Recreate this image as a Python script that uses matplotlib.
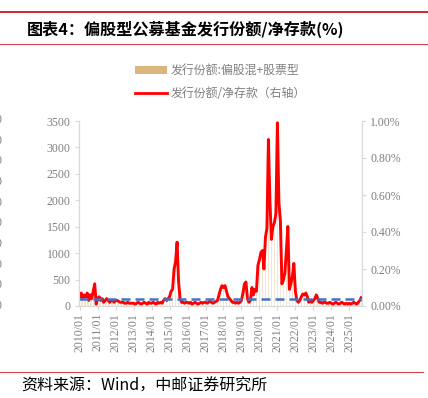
"""偏股型公募基金发行份额/净存款 chart."""

import matplotlib

matplotlib.use("Agg")

import matplotlib.pyplot as plt
import numpy as np
from matplotlib.lines import Line2D
from matplotlib.patches import Patch

# monthly data, 2010/01 - 2025/09
start_year = 2010
n_months = 189

# 发行份额/净存款 (%), right axis
ratio = [
    0.05, 0.07, 0.04, 0.06, 0.05, 0.07, 0.03, 0.06, 0.04, 0.08, 0.12, 0.01,  # 2010
    0.04, 0.05, 0.03, 0.04, 0.02, 0.03, 0.04, 0.03, 0.02, 0.03, 0.03, 0.02,  # 2011
    0.03, 0.03, 0.025, 0.02, 0.02, 0.02, 0.015, 0.015, 0.02, 0.015, 0.015, 0.015,  # 2012
    0.015, 0.01, 0.015, 0.02, 0.015, 0.01, 0.015, 0.02, 0.015, 0.01, 0.02, 0.015,  # 2013
    0.015, 0.02, 0.015, 0.01, 0.02, 0.015, 0.02, 0.015, 0.03, 0.04, 0.03, 0.04,  # 2014
    0.05, 0.08, 0.09, 0.20, 0.24, 0.345, 0.13, 0.04, 0.02, 0.02, 0.015, 0.02,  # 2015
    0.02, 0.015, 0.02, 0.01, 0.015, 0.02, 0.015, 0.01, 0.015, 0.02, 0.015, 0.02,  # 2016
    0.02, 0.015, 0.02, 0.025, 0.02, 0.015, 0.02, 0.025, 0.03, 0.06, 0.09, 0.11,  # 2017
    0.10, 0.11, 0.08, 0.05, 0.04, 0.03, 0.02, 0.02, 0.015, 0.02, 0.015, 0.02,  # 2018
    0.03, 0.07, 0.12, 0.13, 0.04, 0.02, 0.03, 0.10, 0.06, 0.09, 0.08, 0.22,  # 2019
    0.25, 0.29, 0.30, 0.20, 0.37, 0.42, 0.90, 0.57, 0.36, 0.43, 0.45, 0.50,  # 2020
    0.99, 0.56, 0.46, 0.12, 0.14, 0.18, 0.30, 0.43, 0.09, 0.12, 0.16, 0.23,  # 2021
    0.08, 0.03, 0.02, 0.03, 0.05, 0.065, 0.06, 0.07, 0.05, 0.02, 0.03, 0.02,  # 2022
    0.03, 0.04, 0.06, 0.04, 0.02, 0.02, 0.015, 0.02, 0.02, 0.015, 0.015, 0.02,  # 2023
    0.015, 0.01, 0.015, 0.02, 0.015, 0.01, 0.015, 0.02, 0.015, 0.01, 0.015, 0.01,  # 2024
    0.015, 0.01, 0.015, 0.02, 0.015, 0.01, 0.02, 0.03, 0.045,  # 2025
]

# 发行份额:偏股混+股票型 (亿份), left axis
issuance = [
    170, 240, 140, 200, 170, 240, 100, 200, 140, 270, 410, 35,
    140, 170, 100, 140, 70, 100, 140, 100, 70, 100, 100, 70,
    100, 100, 85, 70, 70, 70, 50, 50, 70, 50, 50, 50,
    50, 35, 50, 70, 50, 35, 50, 70, 50, 35, 70, 50,
    50, 70, 50, 35, 70, 50, 70, 50, 100, 140, 100, 140,
    170, 270, 310, 680, 820, 1170, 440, 140, 70, 70, 50, 70,
    70, 50, 70, 35, 50, 70, 50, 35, 50, 70, 50, 70,
    70, 50, 70, 85, 70, 50, 70, 85, 100, 200, 310, 370,
    340, 370, 270, 170, 140, 100, 70, 70, 50, 70, 50, 70,
    100, 240, 410, 440, 140, 70, 100, 340, 200, 310, 270, 750,
    850, 990, 1020, 680, 1260, 1430, 3060, 1940, 1220, 1460, 1530, 1700,
    3370, 1900, 1560, 410, 480, 610, 1020, 1460, 310, 410, 540, 780,
    270, 100, 70, 100, 170, 220, 200, 240, 170, 70, 100, 70,
    100, 140, 200, 140, 70, 70, 50, 70, 70, 50, 50, 70,
    50, 35, 50, 70, 50, 35, 50, 70, 50, 35, 50, 35,
    50, 35, 50, 70, 50, 35, 70, 100, 150,
]

avg_ratio = 0.036  # dashed reference level (%)

months = [f"{start_year + i // 12}/{i % 12 + 1:02d}" for i in range(n_months)]
left_ticks = [0, 500, 1000, 1500, 2000, 2500, 3000, 3500]
right_ticks = [0.0, 0.2, 0.4, 0.6, 0.8, 1.0]

title = "图表4：偏股型公募基金发行份额/净存款(%)"
source = "资料来源：Wind，中邮证券研究所"
bar_label = "发行份额:偏股混+股票型"
line_label = "发行份额/净存款（右轴）"

CJK = ["Noto Sans CJK SC", "DejaVu Sans"]
SERIF = "Liberation Serif"
GRAY = "#808080"
SPINE = "#D9D9D9"
RED_RULE = "#C8141E"
BAR_COLOR = "#DCB67F"

fig = plt.figure(figsize=(4.28, 3.98), dpi=100)
ax = fig.add_axes([79 / 428, 1 - 306 / 398, 283 / 428, 185 / 398])
ax2 = ax.twinx()

x = np.arange(n_months)
ax.bar(x, issuance, width=0.45, color=BAR_COLOR, alpha=0.35, linewidth=0)
ax2.plot(x, ratio, color="#FF0000", linewidth=2.1, solid_joinstyle="round")
ax2.axhline(avg_ratio, color="#4472C4", linewidth=1.8, dashes=(3.6, 2))

ax.set_xlim(-0.5, n_months - 0.5)
ax.set_ylim(0, 3500)
ax2.set_ylim(0, 1.0)

ax.set_yticks(left_ticks)
ax.set_yticklabels([str(v) for v in left_ticks], fontfamily=SERIF, fontsize=8.5, color=GRAY)
ax2.set_yticks(right_ticks)
ax2.set_yticklabels([f"{v:.2f}%" for v in right_ticks], fontfamily=SERIF, fontsize=8.5, color=GRAY)

tick_pos = x[::12]
ax.set_xticks(tick_pos)
ax.set_xticklabels([months[i] for i in tick_pos], rotation=90, fontfamily=SERIF,
                   fontsize=8.5, color=GRAY)

for a in (ax, ax2):
    a.spines["top"].set_visible(False)
    for side in ("left", "right", "bottom"):
        a.spines[side].set_color(SPINE)
        a.spines[side].set_linewidth(0.8)
    a.tick_params(length=3, width=0.8, color=SPINE, pad=3)
ax.tick_params(axis="x", pad=2)

# legend
handles = [
    Patch(facecolor=BAR_COLOR, edgecolor="none"),
    Line2D([0], [0], color="#FF0000", linewidth=2),
]
fig.legend(handles, [bar_label, line_label], loc="center left",
           bbox_to_anchor=(124 / 428, 1 - 82 / 398), frameon=False,
           prop={"family": CJK, "size": 8.6}, labelcolor=GRAY,
           handlelength=2.7, handleheight=0.6, handletextpad=0.3, labelspacing=0.85)

# header / footer
fig.add_artist(Line2D([0, 1], [1 - 12 / 398] * 2, color=RED_RULE, linewidth=1.3))
fig.add_artist(Line2D([0, 1], [1 - 43.5 / 398] * 2, color=RED_RULE, linewidth=0.8, alpha=0.8))
fig.add_artist(Line2D([0, 423 / 428], [1 - 372 / 398] * 2, color=RED_RULE, linewidth=0.8, alpha=0.8))
fig.text(27 / 428, 1 - 29 / 398, title, fontfamily=CJK, fontsize=11.6, fontweight="bold",
         va="center", ha="left", color="black")
fig.text(21 / 428, 1 - 386 / 398, source, fontfamily=CJK, fontsize=11.5,
         va="center", ha="left", color="black")

# clipped tick labels of the neighbouring chart at the left edge
for yy in np.linspace(120, 306, 10):
    fig.text(2 / 428, 1 - yy / 398, "0", fontfamily=SERIF, fontsize=8.5,
             color=GRAY, ha="right", va="center")

fig.savefig("out.png", dpi=100)
plt.close(fig)
